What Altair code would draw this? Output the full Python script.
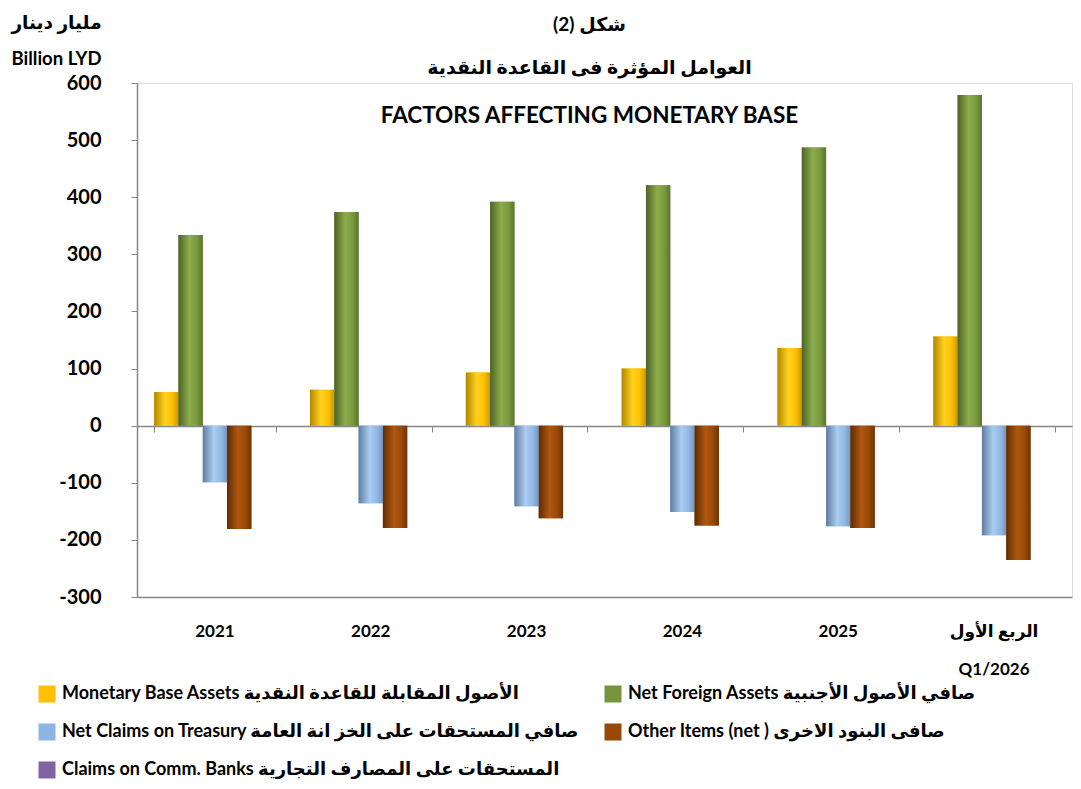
import altair as alt
import pandas as pd

periods = ["2021", "2022", "2023", "2024", "2025", "الربع الأول|Q1/2026"]
series = [
    "Monetary Base Assets  الأصول المقابلة للقاعدة النقدية",
    "Net Foreign Assets صافي الأصول الأجنبية",
    "Net Claims on Treasury صافي المستحقات على الخز انة العامة",
    "Other Items (net ) صافى البنود الاخرى",
    "Claims on Comm. Banks المستحقات على المصارف التجارية",
]
monetary_base_assets = [59, 63, 93, 100, 136, 156]
net_foreign_assets = [334, 374, 392, 421, 487, 579]
net_claims_treasury = [-99, -136, -141, -151, -176, -192]
other_items = [-181, -179, -162, -175, -179, -235]
claims_comm_banks = [0, 0, 0, 0, 0, 0]

values = [monetary_base_assets, net_foreign_assets, net_claims_treasury,
          other_items, claims_comm_banks]
colors = ["#FFC000", "#77933C", "#8DB4E2", "#984807", "#8064A2"]
grad_stops = [
    ["#B38600", "#FFD21F", "#FFC000", "#C99700"],
    ["#4E6327", "#8CAD4C", "#7A9A3E", "#5B7530"],
    ["#5F7D9F", "#A9CCF2", "#93B9E4", "#7597BF"],
    ["#5E2C04", "#B0570F", "#9A4A08", "#6E3405"],
    ["#5A4674", "#9B80BE", "#8064A2", "#634D80"],
]

rows = []
for s, vals in zip(series, values):
    for p, v in zip(periods, vals):
        rows.append({"period": p, "series": s, "value": v})
df = pd.DataFrame(rows)

FONT = "Lato, DejaVu Sans, sans-serif"
GRAY = "#868686"

y_enc = alt.Y(
    "value:Q",
    scale=alt.Scale(domain=[-300, 600], nice=False, zero=False),
    axis=alt.Axis(
        values=list(range(-300, 601, 100)), grid=False, domainColor=GRAY,
        domainWidth=1.5, tickColor=GRAY, tickSize=6, labelFontSize=20,
        labelFontWeight="bold", labelFont=FONT, labelColor="#000",
        labelPadding=30,
        labelExpr="datum.value < 0 ? '-' + abs(datum.value) : '' + datum.value",
        title=["مليار دينار", "Billion LYD"], titleAngle=0, titleAlign="center",
        titleBaseline="top", titleX=-81, titleY=-70, titleLineHeight=36,
        titleFontSize=18.5, titleFontWeight="bold", titleFont=FONT, titleColor="#000",
    ),
)

x_scale = alt.Scale(paddingInner=0.22, paddingOuter=0.11)
xoff = alt.XOffset("series:N", sort=series, scale=alt.Scale(domain=series))

axis_labels = alt.Axis(
    orient="bottom", domain=True, domainColor=GRAY, domainWidth=1.5, ticks=False,
    labelAngle=0, labelFontSize=17, labelFontWeight="bold", labelFont=FONT,
    labelColor="#000", labelPadding=26, labelLineHeight=38,
    labelExpr="split(datum.label, '|')", title=None,
)
axis_zero = alt.Axis(
    orient="bottom", offset=-171, domain=True, domainColor=GRAY, domainWidth=1.5,
    ticks=True, tickBand="extent", tickSize=6, tickColor=GRAY, labels=False,
    title=None,
)

base = alt.Chart(df)

solid = base.mark_bar().encode(
    x=alt.X("period:N", sort=periods, scale=x_scale, axis=axis_labels),
    xOffset=xoff,
    y=y_enc,
    color=alt.Color(
        "series:N", sort=series,
        scale=alt.Scale(domain=series, range=colors),
        legend=alt.Legend(
            orient="none", legendX=-99, legendY=602, columns=2, direction="horizontal",
            title=None, symbolType="square", symbolSize=289, symbolStrokeWidth=0,
            labelFontSize=18, labelFontWeight="bold", labelFont=FONT,
            labelColor="#000", labelLimit=700, labelOffset=6,
            rowPadding=20, columnPadding=24, padding=0,
        ),
    ),
)

layers = [solid]
for i, s in enumerate(series):
    st = grad_stops[i]
    grad = alt.Gradient(
        gradient="linear", x1=0, x2=1, y1=0, y2=0,
        stops=[alt.GradientStop(offset=0, color=st[0]),
               alt.GradientStop(offset=0.45, color=st[1]),
               alt.GradientStop(offset=0.75, color=st[2]),
               alt.GradientStop(offset=1, color=st[3])],
    )
    lay = base.transform_filter(alt.datum.series == s).mark_bar(fill=grad).encode(
        x=alt.X("period:N", sort=periods, scale=x_scale,
                axis=axis_zero if i == 0 else None),
        xOffset=xoff,
        y=y_enc,
    )
    layers.append(lay)

chart = alt.layer(*layers).resolve_axis(x="independent").properties(
    width=935, height=514,
    autosize=alt.AutoSizeParams(type="none"),
    padding={"left": 129, "top": 75, "right": 1, "bottom": 184},
    title=alt.TitleParams(
        text=["شكل (2)", "العوامل المؤثرة فى القاعدة النقدية"],
        subtitle="FACTORS AFFECTING MONETARY BASE",
        anchor="middle", frame="group", fontSize=19, fontWeight="bold",
        font=FONT, color="#000", lineHeight=43,
        subtitleFontSize=22.5, subtitleFontWeight="bold", subtitleFont=FONT,
        subtitleColor="#000", subtitlePadding=27, dx=-15, dy=114, offset=0,
    ),
).configure_view(stroke=None).configure(background="white")

chart.save("out.html", embed_options={"renderer": "svg", "actions": False})
